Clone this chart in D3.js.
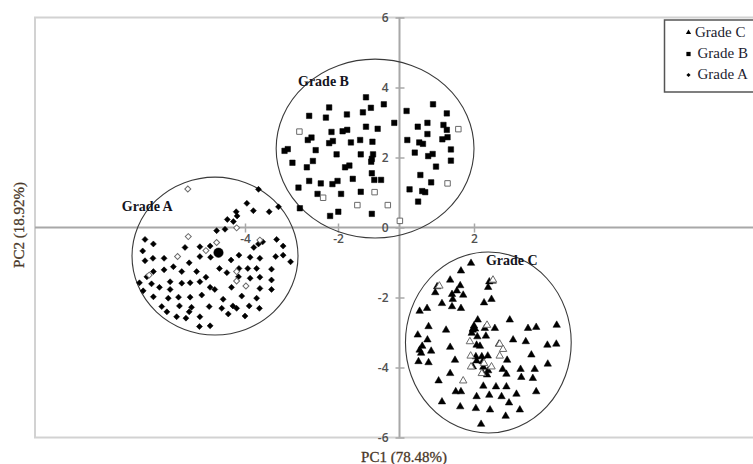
<!DOCTYPE html>
<html lang="en">
<head>
    <meta charset="UTF-8">
    <title>PCA score plot</title>
    <style>
        body { margin: 0; background: #fff; }
        svg { display: block; }
        .tick text { font-family: "Open Sans", sans-serif; font-size: 12px; font-weight: 600; fill: #505050; }
        .serif { font-family: "Liberation Serif", "Times New Roman", serif; }
    </style>
</head>
<body>
<svg></svg>
<script src="https://d3js.org/d3.v7.min.js"></script>
<script>
    /* data: PC1 / PC2 scores */
    const gradeAFilled = [
        [-3.71,1.09],[-3.96,0.69],[-3.82,0.48],[-3.48,0.45],[-3.28,0.59],[-4.19,0.45],[-4.17,0.33],[-4.38,0.23],[-4.25,0.17],[-4.61,-0.09],[-4.43,-0.05],
        [-6.15,-0.34],[-5.97,-0.47],[-6.20,-0.67],[-5.29,-0.57],[-4.97,-0.55],[-4.75,-0.53],[-3.81,-0.57],[-3.71,-0.47],[-3.62,-0.41],[-3.32,-0.34],[-3.18,-0.53],
        [-3.34,-0.83],[-3.18,-0.79],[-3.02,-0.98],[-6.15,-0.95],[-5.98,-0.88],[-5.74,-0.88],[-4.97,-0.83],[-4.74,-0.85],[-4.30,-0.93],[-4.13,-0.79],[-3.89,-0.85],[-3.68,-0.88],
        [-5.54,-1.12],[-5.20,-1.01],[-4.55,-1.17],[-4.13,-1.17],[-3.94,-1.17],[-3.75,-1.17],[-3.43,-1.19],[-5.97,-1.26],[-5.74,-1.21],[-6.11,-1.41],[-5.36,-1.26],[-5.04,-1.26],[-4.84,-1.42],[-4.39,-1.29],
        [-6.27,-1.58],[-6.01,-1.61],[-5.84,-1.71],[-5.61,-1.55],[-5.36,-1.59],[-5.18,-1.58],[-4.97,-1.55],[-4.29,-1.71],[-4.14,-1.41],[-3.89,-1.45],[-3.68,-1.42],[-3.43,-1.50],
        [-6.19,-1.81],[-5.61,-1.77],[-4.75,-1.71],[-4.65,-1.77],[-3.68,-1.74],[-3.43,-1.77],[-5.97,-1.98],[-5.65,-2.02],[-5.43,-1.99],[-5.18,-1.99],[-4.93,-1.93],[-4.47,-2.05],[-4.07,-1.96],[-3.75,-2.02],
        [-5.79,-2.26],[-5.41,-2.24],[-5.15,-2.28],[-4.77,-2.26],[-4.50,-2.31],[-4.26,-2.24],[-4.18,-2.31],[-3.91,-2.24],[-3.69,-2.31],[-5.68,-2.41],[-5.20,-2.41],
        [-5.47,-2.55],[-5.27,-2.59],[-4.97,-2.55],[-4.36,-2.47],[-4.00,-2.53],[-4.98,-2.83],[-4.75,-2.81]
    ];
    const gradeAOpen = [
        [-5.23,1.10],[-5.22,-0.26],[-4.61,-0.43],[-4.84,-0.66],[-4.18,-0.01],[-3.68,-0.36],[-5.45,-0.83],[-6.06,-1.36],[-4.18,-1.26],[-4.18,-1.53],[-3.98,-1.67]
    ];
    const gradeBFilled = [
        [-1.09,3.72],[-2.19,3.43],[-0.51,3.52],[-0.93,3.42],[-1.19,3.29],[0.90,3.52],[0.19,3.33],[1.27,3.26],
        [-2.62,3.19],[-2.26,3.14],[-1.71,3.23],[-0.17,2.99],[0.75,2.99],[0.49,2.88],[1.18,2.93],[-1.09,2.88],
        [-0.71,2.82],[-2.14,2.73],[-1.85,2.75],[-1.70,2.79],[1.27,2.79],[0.75,2.67],[0.21,2.50],[0.53,2.43],
        [0.63,2.39],[1.15,2.52],[1.29,2.58],[-2.57,2.57],[-2.65,2.50],[-2.19,2.41],[-2.11,2.47],[-1.58,2.43],
        [-1.28,2.50],[-0.88,2.45],[-3.08,2.24],[-3.15,2.19],[-2.48,2.21],[1.38,2.23],[0.41,2.14],[0.77,2.04],
        [0.89,2.10],[-2.03,2.09],[-1.26,2.09],[-0.86,2.09],[-0.90,1.96],[-0.92,1.88],[-2.98,1.85],[-2.54,1.90],[1.38,1.91],
        [-2.67,1.72],[-1.77,1.72],[-1.63,1.77],[-0.90,1.55],[0.98,1.74],[0.56,1.50],[-2.62,1.33],[-2.37,1.26],
        [-2.12,1.24],[-2.01,1.33],[-1.52,1.39],[-0.82,1.36],[-0.60,1.36],[0.85,1.29],[-2.85,1.14],[-2.44,0.96],
        [-1.90,0.96],[-1.26,1.02],[0.27,1.09],[0.61,1.04],[0.69,1.01],[0.50,0.74],[-2.82,0.55],[-2.17,0.33],
        [-1.99,0.45],[-0.90,0.39]
    ];
    const gradeBOpen = [
        [-2.83,2.74],[-2.32,0.85],[-1.37,0.64],[-0.81,1.01],[-0.38,0.64],[1.58,2.81],[1.29,1.26],[0.01,0.19]
    ];
    const gradeCFilled = [
        [1.92,-1.02],[1.65,-1.24],[1.36,-1.50],[1.63,-1.66],[1.01,-1.69],[0.96,-1.86],[1.54,-1.81],[1.41,-1.91],[1.43,-2.05],[1.71,-1.93],[1.14,-2.17],[1.41,-2.26],[1.65,-2.31],
        [2.41,-1.55],[2.50,-1.53],[2.38,-1.71],[2.47,-2.05],[2.27,-2.15],[0.54,-2.39],[0.74,-2.31],[2.10,-2.64],[2.00,-2.81],[1.97,-2.93],[1.94,-3.02],[2.96,-2.64],
        [0.78,-2.83],[1.25,-2.93],[2.29,-2.88],[2.56,-2.88],[3.45,-2.88],[3.67,-2.85],[4.22,-2.79],[0.49,-3.07],[0.75,-3.21],[2.09,-3.12],[2.32,-3.10],[3.05,-3.21],[3.39,-3.26],
        [0.61,-3.39],[0.54,-3.50],[0.58,-3.59],[0.85,-3.53],[1.36,-3.42],[2.07,-3.36],[2.16,-3.39],[2.67,-3.33],[3.97,-3.36],[4.21,-3.33],
        [0.51,-3.83],[0.78,-3.86],[1.49,-3.79],[2.05,-3.69],[2.21,-3.69],[2.37,-3.67],[2.07,-3.81],[2.23,-3.83],[2.89,-3.79],[3.54,-3.64],[3.98,-3.90],
        [1.97,-3.98],[2.25,-3.99],[2.38,-4.09],[2.77,-4.05],[3.25,-4.05],[3.63,-4.05],[1.36,-4.17],[2.23,-4.15],[2.35,-4.21],[2.87,-4.19],[3.27,-4.28],[3.58,-4.31],[1.05,-4.38],
        [2.25,-4.53],[2.59,-4.55],[2.87,-4.55],[1.51,-4.69],[1.65,-4.69],[2.07,-4.83],[2.41,-4.79],[2.74,-4.83],[3.14,-4.76],[3.67,-4.69],
        [1.14,-4.98],[1.63,-5.12],[2.05,-5.17],[2.43,-5.21],[2.94,-5.01],[3.23,-5.21],[2.85,-5.39],[2.19,-5.62]
    ];
    const gradeCOpen = [
        [1.07,-1.67],[2.51,-1.50],[1.89,-3.26],[1.91,-3.67],[2.35,-2.79],[2.69,-3.33],[2.78,-3.48],[2.69,-3.67],[2.47,-3.98],[2.21,-4.17],[1.71,-4.38],[1.92,-3.98],[2.27,-3.88]
    ];
    const centroidA = [[-4.57,-0.72]];
    const centroidC = [[2.00,-2.88]];

    /* confidence ellipses: extents in score units */
    const groupNames = ["Grade A", "Grade B", "Grade C"];
    const ellipseX0 = [-6.43, -3.33, 0.16];
    const ellipseX1 = [-2.86, 2.00, 4.61];
    const ellipseY0 = [-3.07, -0.30, -5.87];
    const ellipseY1 = [1.44, 4.81, -0.70];
    const labelX = [-6.65, -2.86, 2.32];
    const labelY = [0.47, 4.04, -1.07];

    const xTickValues = [-4, -2, 2];
    const yTickValues = [-6, -4, -2, 0, 2, 4, 6];
    const legendNames = ["Grade C", "Grade B", "Grade A"];

    /* layout */
    const width = 753;
    const height = 464;
    const plotLeft = 35;
    const plotRight = 756;

    const svg = d3.select("svg")
        .attr("width", width)
        .attr("height", height);

    // the original axis is not evenly spaced, so a piecewise scale follows its ticks
    const x = d3.scaleLinear().domain([-4, -2, 0, 2]).range([245, 338, 399.5, 474]);
    const y = d3.scaleLinear().domain([-6, 6]).range([437.5, 17.5]);

    /* plot frame */
    svg.append("rect")
        .attr("x", plotLeft)
        .attr("y", y(6))
        .attr("width", plotRight - plotLeft)
        .attr("height", y(-6) - y(6))
        .attr("fill", "none")
        .attr("stroke", "#d2d2d2")
        .attr("stroke-width", 2);

    /* zero lines */
    svg.append("line")
        .attr("x1", plotLeft).attr("x2", plotRight)
        .attr("y1", y(0)).attr("y2", y(0))
        .attr("stroke", "#a8a8a8").attr("stroke-width", 2);
    svg.append("line")
        .attr("x1", x(0)).attr("x2", x(0))
        .attr("y1", y(6)).attr("y2", y(-6))
        .attr("stroke", "#a8a8a8").attr("stroke-width", 2);

    /* axes */
    const xAxis = svg.append("g")
        .attr("transform", `translate(0,${y(0)})`)
        .call(d3.axisBottom(x).tickValues(xTickValues).tickFormat(d => String(d)).tickSize(4).tickPadding(8));
    xAxis.select(".domain").remove();
    xAxis.selectAll(".tick line").attr("y1", -4).attr("y2", 5).attr("stroke", "#a8a8a8").attr("stroke-width", 1.5);
    xAxis.selectAll(".tick text").attr("y", 12).attr("dy", "0.32em");

    const yAxis = svg.append("g")
        .attr("transform", `translate(${x(0)},0)`)
        .call(d3.axisLeft(y).tickValues(yTickValues).tickFormat(d => String(d)).tickSize(4));
    yAxis.select(".domain").remove();
    yAxis.selectAll(".tick line").attr("x1", -4).attr("x2", 5).attr("stroke", "#a8a8a8").attr("stroke-width", 1.5);
    yAxis.selectAll(".tick text").attr("x", -11).attr("dy", "0.36em");

    /* ellipses */
    svg.selectAll(".ellipse").data(groupNames).enter().append("ellipse")
        .attr("class", "ellipse")
        .attr("cx", (d, i) => (x(ellipseX0[i]) + x(ellipseX1[i])) / 2)
        .attr("cy", (d, i) => (y(ellipseY0[i]) + y(ellipseY1[i])) / 2)
        .attr("rx", (d, i) => (x(ellipseX1[i]) - x(ellipseX0[i])) / 2)
        .attr("ry", (d, i) => (y(ellipseY0[i]) - y(ellipseY1[i])) / 2)
        .attr("fill", "none")
        .attr("stroke", "#3a3a3a")
        .attr("stroke-width", 1.1);

    /* markers */
    const square = d3.symbol(d3.symbolSquare, 30)();
    const diamond = d3.symbol(d3.symbolSquare, 18)();
    const triangle = d3.symbol(d3.symbolTriangle, 24)();

    const drawPoints = (data, path, rotate, filled, cls) => {
        svg.selectAll(`.${cls}`).data(data).enter().append("path")
            .attr("class", cls)
            .attr("d", path)
            .attr("transform", d => `translate(${x(d[0])},${y(d[1])}) rotate(${rotate})`)
            .attr("fill", filled ? "#000" : "#fff")
            .attr("stroke", filled ? "#000" : "#6a6a6a")
            .attr("stroke-width", filled ? 0.5 : 1);
    };

    drawPoints(gradeAFilled, diamond, 45, true, "aFill");
    drawPoints(gradeAOpen, diamond, 45, false, "aOpen");
    drawPoints(gradeBFilled, square, 0, true, "bFill");
    drawPoints(gradeBOpen, square, 0, false, "bOpen");
    drawPoints(gradeCFilled, triangle, 0, true, "cFill");
    drawPoints(gradeCOpen, triangle, 0, false, "cOpen");
    drawPoints(centroidA, d3.symbol(d3.symbolCircle, 70)(), 0, true, "aCen");
    drawPoints(centroidC, d3.symbol(d3.symbolTriangle, 40)(), 0, true, "cCen");

    /* group labels */
    svg.selectAll(".glabel").data(groupNames).enter().append("text")
        .attr("class", "glabel serif")
        .attr("x", (d, i) => x(labelX[i]))
        .attr("y", (d, i) => y(labelY[i]))
        .attr("font-size", 14)
        .attr("font-weight", "bold")
        .attr("fill", "#141420")
        .text(d => d);

    /* axis titles */
    svg.append("text")
        .attr("class", "serif")
        .attr("x", 404)
        .attr("y", 462)
        .attr("text-anchor", "middle")
        .attr("font-size", 15)
        .attr("fill", "#4a3828")
        .attr("stroke", "#4a3828")
        .attr("stroke-width", 0.3)
        .text("PC1 (78.48%)");
    svg.append("text")
        .attr("class", "serif")
        .attr("transform", "translate(24,225) rotate(-90)")
        .attr("text-anchor", "middle")
        .attr("font-size", 15)
        .attr("fill", "#4a3828")
        .attr("stroke", "#4a3828")
        .attr("stroke-width", 0.3)
        .text("PC2 (18.92%)");

    /* legend */
    const legend = svg.append("g").attr("transform", "translate(664.5,20)");
    legend.append("rect")
        .attr("width", 100)
        .attr("height", 72)
        .attr("fill", "#fff")
        .attr("stroke", "#555")
        .attr("stroke-width", 1.5);
    const legendSymbols = [d3.symbol(d3.symbolTriangle, 12)(), d3.symbol(d3.symbolSquare, 18)(), d3.symbol(d3.symbolSquare, 9)()];
    const legendRotate = [0, 0, 45];
    legend.selectAll(".lg").data(legendNames).enter().each(function (d, i) {
        const row = legend.append("g").attr("transform", `translate(0,${12 + i * 21})`);
        row.append("path")
            .attr("d", legendSymbols[i])
            .attr("transform", `translate(24,${i === 0 ? 0.5 : 1}) rotate(${legendRotate[i]})`)
            .attr("fill", "#000");
        row.append("text")
            .attr("class", "serif")
            .attr("x", i === 0 ? 30.5 : 33)
            .attr("y", 5)
            .attr("font-size", 15)
            .attr("fill", "#1c1c30")
            .text(d);
    });
</script>
</body>
</html>
